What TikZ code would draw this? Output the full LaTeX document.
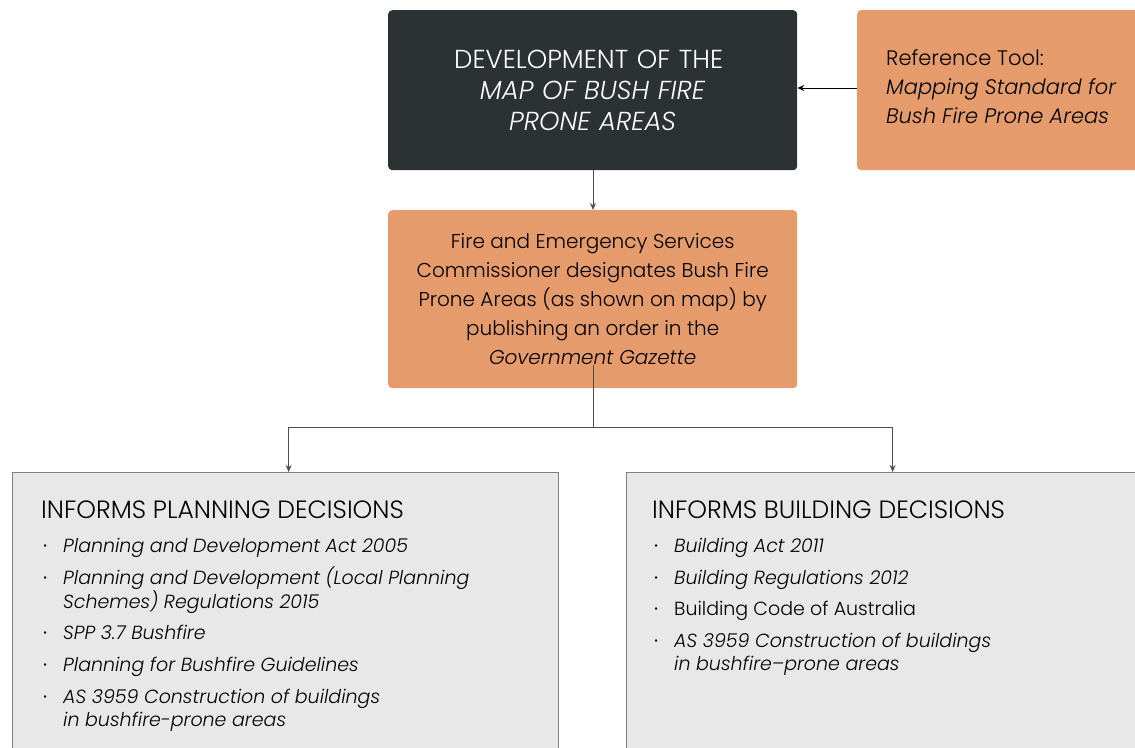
\documentclass[tikz,border=0pt]{standalone}
\usepackage{fontspec}
\setmainfont{Poppins}[UprightFont=* Light, ItalicFont=* Light Italic, BoldFont=* Regular]
\usetikzlibrary{arrows.meta}
\definecolor{dkc}{HTML}{2C3134}
\definecolor{orc}{HTML}{E59B6B}
\definecolor{gyc}{HTML}{E8E8E8}
\definecolor{bdc}{HTML}{7F7F7F}
\definecolor{lnc}{HTML}{4D4D4D}
\newcommand{\bul}{\makebox[21pt][l]{\hspace{1pt}\textbf{·}}}
\newcommand{\twoline}[2]{\begin{tabular}[t]{@{}l@{}}#1\\#2\end{tabular}}
\begin{document}
\begin{tikzpicture}[x=1pt,y=-1pt,
  darkbox/.style={fill=dkc, rounded corners=4pt, anchor=north west, text=white, align=center,
     font=\fontsize{26}{31}\selectfont},
  orbox/.style={fill=orc, rounded corners=4pt, anchor=north west},
  greybox/.style={fill=gyc, draw=bdc, line width=1.2pt, anchor=north west},
  conn/.style={draw=lnc, line width=1pt, -{Stealth[length=7pt,width=6pt]}},
  refconn/.style={draw=black, line width=0.9pt, -{Stealth[length=7pt,width=6pt,inset=2.5pt]}},
  heading/.style={anchor=base west, inner sep=0pt, font=\fontsize{25}{28}\selectfont},
  itm/.style={anchor=base west, inner sep=0pt, font=\fontsize{19}{23}\selectfont},
  reftext/.style={anchor=west, inner sep=0pt, align=left, font=\fontsize{21}{29}\selectfont}]
\useasboundingbox (0,0) rectangle (1135,747);

\node[darkbox, minimum width=409pt, minimum height=160pt, text width=380pt] (dev) at (388,10)
  {\hspace*{-8pt}DEVELOPMENT OF THE\\\textit{MAP OF BUSH FIRE}\\\textit{PRONE AREAS}};

\node[orbox, minimum width=300pt, minimum height=160pt] (ref) at (857,10) {};
\node[reftext] (reft) at (886,87)
  {Reference Tool:\\\textit{Mapping Standard for}\\\textit{Bush Fire Prone Areas}};

\node[orbox, minimum width=409pt, minimum height=178pt, align=center,
  font=\fontsize{20}{29}\selectfont] (fes) at (388,210)
  {Fire and Emergency Services\\Commissioner designates Bush Fire\\Prone Areas (as shown on map) by\\publishing an order in the\\\textit{Government Gazette}};

\node[greybox, minimum width=546pt, minimum height=300pt] (plan) at (12,472) {};
\node[greybox, minimum width=532pt, minimum height=300pt] (build) at (626,472) {};

\coordinate (fesin) at (593,365);
\coordinate (split) at (593,427);

\draw[refconn] (ref.west |- 0,88) -- (dev.east |- 0,88);
\draw[conn] (dev.south -| 593,0) -- (fes.north -| 593,0);
\draw[draw=lnc, line width=1pt] (fesin) -- (split);
\draw[conn] (split) -| ([xshift=3pt]plan.north);
\draw[conn] (split) -| (build.north);

\node[heading] (ph) at (41,518) {INFORMS PLANNING DECISIONS};
\node[itm] (p1) at (42,552) {\bul\textit{Planning and Development Act 2005}};
\node[itm] (p2) at (42,584) {\bul\twoline{\textit{Planning and Development (Local Planning}}{\textit{Schemes) Regulations 2015}}};
\node[itm] (p3) at (42,639) {\bul\textit{SPP 3.7 Bushfire}};
\node[itm] (p4) at (42,671) {\bul\textit{Planning for Bushfire Guidelines}};
\node[itm] (p5) at (42,703) {\bul\twoline{\textit{AS 3959 Construction of buildings}}{\textit{in bushfire-prone areas}}};

\node[heading] (bh) at (652,518) {INFORMS BUILDING DECISIONS};
\node[itm] (b1) at (653,552) {\bul\textit{Building Act 2011}};
\node[itm] (b2) at (653,584) {\bul\textit{Building Regulations 2012}};
\node[itm] (b3) at (653,615) {\bul Building Code of Australia};
\node[itm] (b4) at (653,647) {\bul\twoline{\textit{AS 3959 Construction of buildings}}{\textit{in bushfire–prone areas}}};
\end{tikzpicture}
\end{document}
